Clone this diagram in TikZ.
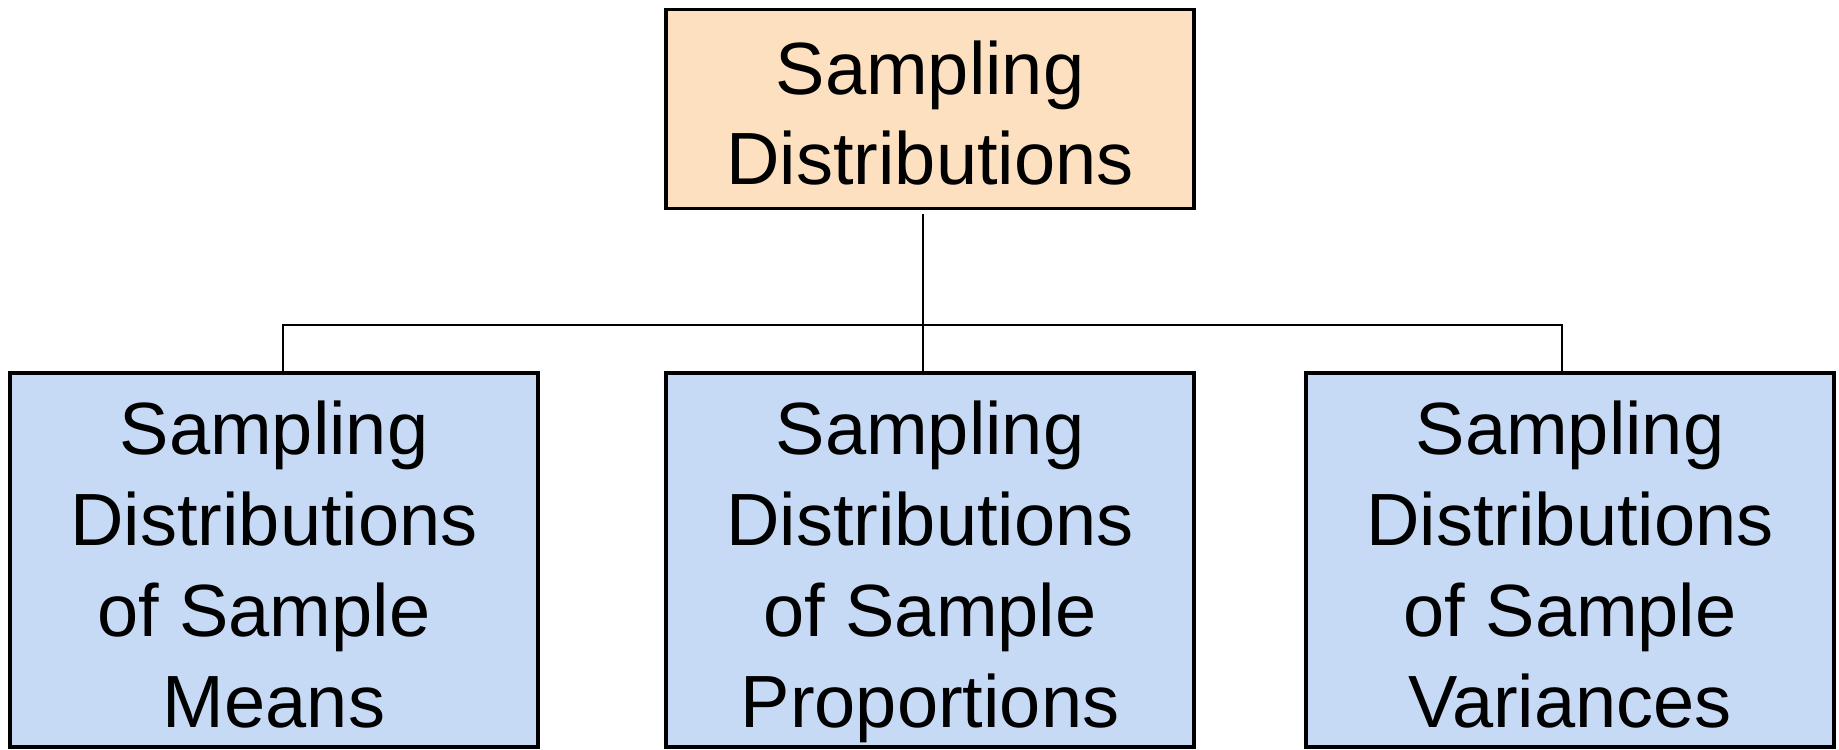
\documentclass[tikz,border=0pt]{standalone}
\usepackage{fontspec}
\setmainfont{Liberation Sans}
\definecolor{peach}{HTML}{FCE0C0}
\definecolor{paleblue}{HTML}{C6DAF6}
\begin{document}
\begin{tikzpicture}[x=0.5pt,y=0.5pt,
  boxbase/.style={draw=black,line width=1.7pt,inner sep=0pt,align=center,
    font=\fontsize{37}{45.4}\selectfont,minimum width=264pt,text depth=0pt},
  topbox/.style={boxbase,fill=peach,minimum height=99.5pt,text height=76pt},
  subbox/.style={boxbase,fill=paleblue,minimum height=187pt,text height=167pt},
  conn/.style={draw=black,line width=1.4pt}]
\useasboundingbox (0,0) rectangle (1839,749);
\node[topbox] (top) at (930,640) {Sampling\\Distributions};
\node[subbox] (b1) at (274,189) {Sampling\\Distributions\\of Sample\rule{0.278em}{0pt}\\Means};
\node[subbox] (b2) at (930,189) {Sampling\\Distributions\\of Sample\\Proportions};
\node[subbox] (b3) at (1570,189) {Sampling\\Distributions\\of Sample\\Variances};
\coordinate (busR) at (1562,424);
\draw[conn,shorten <=2pt] ([xshift=-3.5pt]top.south) -- ([xshift=-3.5pt]b2.north);
\draw[conn] ([xshift=4.5pt]b1.north) |- (busR) -- ([xshift=-4pt]b3.north);
\end{tikzpicture}
\end{document}
